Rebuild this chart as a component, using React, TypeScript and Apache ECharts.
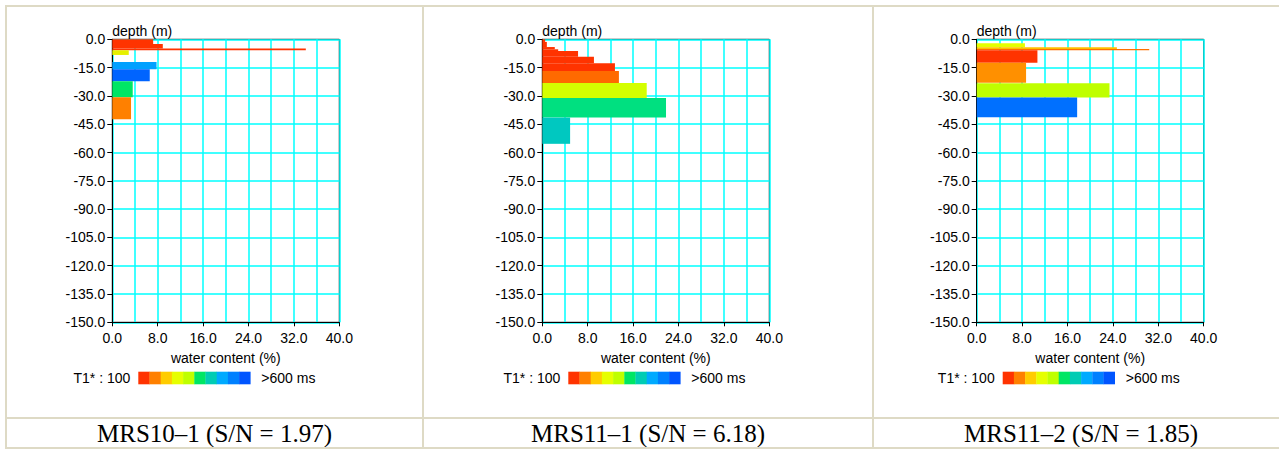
import React, { useEffect, useRef } from 'react';
import * as echarts from 'echarts';

// ---------- data ----------
const captions = ['MRS10\u20131 (S/N = 1.97)', 'MRS11\u20131 (S/N = 6.18)', 'MRS11\u20132 (S/N = 1.85)'];
const xLabelStep = 8; // labelled water-content ticks (%)
const xMax = 40;
const depthMin = -150;
const depthStep = 15;
const legendLeftText = 'T1* : 100';
const legendRightText = '>600 ms';
const xAxisTitle = 'water content (%)';
const yAxisTitle = 'depth (m)';

// panel 1 : MRS10-1  (depth top, depth bottom in m; water content in %)
const p1Top = [0, 2.5, 4.9, 5.8, 12.0, 15.9, 22.2, 30.7];
const p1Bottom = [2.5, 4.9, 5.8, 8.3, 15.9, 22.2, 30.7, 42.4];
const p1Water = [7.2, 8.9, 34.1, 2.9, 7.8, 6.6, 3.6, 3.3];

// panel 2 : MRS11-1
const p2Top = [0, 1.4, 4.1, 5.3, 6.2, 9.2, 12.7, 16.8, 23.1, 31.1, 41.5];
const p2Bottom = [1.4, 4.1, 5.3, 6.2, 9.2, 12.7, 16.8, 23.1, 31.1, 41.5, 55.4];
const p2Water = [0.5, 0.8, 2.2, 2.8, 6.3, 9.1, 12.8, 13.5, 18.4, 21.8, 4.9];

// panel 3 : MRS11-2
const p3Top = [2.1, 4.2, 5.1, 5.8, 12.4, 23.3, 30.9];
const p3Bottom = [4.2, 5.1, 5.8, 12.4, 23.0, 30.9, 41.3];
const p3Water = [8.5, 24.7, 30.4, 10.7, 8.7, 23.4, 17.7];

// ---------- styles ----------
const p1Colors = ['#ff3300', '#ff3300', '#ff3300', '#e6f000', '#00a0ff', '#0064ff', '#00e664', '#ff8000'];
const p2Colors = ['#ff3300', '#ff3300', '#ff3300', '#ff3300', '#ff3300', '#ff3300', '#ff3300', '#ff6a00', '#d4ff00', '#00e080', '#00c8c0'];
const p3Colors = ['#e6ff00', '#ffc000', '#ff7000', '#ff3300', '#ff9000', '#bfff00', '#0070ff'];
const legendPalette = ['#ff3300', '#ff8000', '#ffcc00', '#e6ff00', '#bfff00', '#00e664', '#00ccb4', '#00aaff', '#0080ff', '#0055ff'];

const W = 1279;
const H = 452;
const plotLefts = [112.3, 542.3, 976.7];
const plotTop = 39.3;
const plotW = 227;
const plotH = 283;
const captionCenters = [214.5, 648, 1081];
const FONT = 'Liberation Sans';
const GRID_COLOR = '#00ffff';
const BORDER = '#dedac5';

const panels = [
  { top: p1Top, bottom: p1Bottom, water: p1Water, colors: p1Colors },
  { top: p2Top, bottom: p2Bottom, water: p2Water, colors: p2Colors },
  { top: p3Top, bottom: p3Bottom, water: p3Water, colors: p3Colors },
];

export default function App() {
  const ref = useRef<HTMLDivElement>(null);

  useEffect(() => {
    if (!ref.current) return;
    const chart = echarts.init(ref.current, null, { renderer: 'svg', width: W, height: H });

    const grid: any[] = [];
    const xAxis: any[] = [];
    const yAxis: any[] = [];
    const series: any[] = [];
    const graphic: any[] = [];

    panels.forEach((p, i) => {
      const left = plotLefts[i];
      grid.push({
        left,
        top: plotTop,
        width: plotW,
        height: plotH,
        show: true,
        borderColor: '#000',
        borderWidth: 1,
        backgroundColor: '#fff',
      });
      xAxis.push({
        gridIndex: i,
        type: 'value',
        min: 0,
        max: xMax,
        interval: xLabelStep,
        axisLine: { show: true, onZero: false, lineStyle: { color: '#000', width: 1 } },
        axisTick: { show: true, length: 4, lineStyle: { color: '#000' } },
        axisLabel: {
          color: '#000',
          fontFamily: FONT,
          fontSize: 14,
          margin: 9,
          formatter: (v: number) => v.toFixed(1),
        },
        splitLine: { show: true, lineStyle: { color: GRID_COLOR, width: 1.5 } },
        minorTick: { show: false, splitNumber: 2 },
        minorSplitLine: { show: true, lineStyle: { color: GRID_COLOR, width: 1.5 } },
      });
      yAxis.push({
        gridIndex: i,
        type: 'value',
        min: depthMin,
        max: 0,
        interval: depthStep,
        axisLine: { show: true, onZero: false, lineStyle: { color: '#000', width: 1 } },
        axisTick: { show: true, length: 5, lineStyle: { color: '#000' } },
        axisLabel: {
          color: '#000',
          fontFamily: FONT,
          fontSize: 14,
          margin: 7,
          formatter: (v: number) => v.toFixed(1),
        },
        splitLine: { show: true, lineStyle: { color: GRID_COLOR, width: 1.5 } },
      });

      const data = p.water.map((w, k) => ({
        value: [-p.top[k], -p.bottom[k], w],
        itemStyle: { color: p.colors[k] },
      }));
      series.push({
        type: 'custom',
        xAxisIndex: i,
        yAxisIndex: i,
        encode: { x: 2, y: [0, 1] },
        data,
        z: 3,
        renderItem: (params: any, api: any) => {
          const a = api.coord([0, api.value(0)]);
          const b = api.coord([api.value(2), api.value(1)]);
          return {
            type: 'rect',
            shape: { x: a[0], y: a[1], width: b[0] - a[0], height: b[1] - a[1] },
            style: { fill: api.visual('color') },
          };
        },
      });

      // axis titles
      graphic.push({
        type: 'text',
        x: left,
        y: plotTop - 1,
        style: { text: yAxisTitle, fontFamily: FONT, fontSize: 14, fill: '#000', textVerticalAlign: 'bottom' },
      });
      graphic.push({
        type: 'text',
        x: left + plotW / 2,
        y: 358,
        style: {
          text: xAxisTitle,
          fontFamily: FONT,
          fontSize: 14,
          fill: '#000',
          textAlign: 'center',
          textVerticalAlign: 'middle',
        },
      });
      // legend
      graphic.push({
        type: 'text',
        x: left + 18,
        y: 378,
        style: {
          text: legendLeftText,
          fontFamily: FONT,
          fontSize: 14,
          fill: '#000',
          textAlign: 'right',
          textVerticalAlign: 'middle',
        },
      });
      const cw = 11.2;
      legendPalette.forEach((c, k) => {
        graphic.push({
          type: 'rect',
          shape: { x: left + 26 + k * cw, y: 371.7, width: cw + 0.3, height: 12.6 },
          style: { fill: c },
        });
      });
      graphic.push({
        type: 'text',
        x: left + 149,
        y: 378,
        style: {
          text: legendRightText,
          fontFamily: FONT,
          fontSize: 14,
          fill: '#000',
          textAlign: 'left',
          textVerticalAlign: 'middle',
        },
      });
      // caption
      graphic.push({
        type: 'text',
        x: captionCenters[i],
        y: 433,
        style: {
          text: captions[i],
          fontFamily: 'Liberation Serif',
          fontSize: 25,
          fill: '#000',
          textAlign: 'center',
          textVerticalAlign: 'middle',
        },
      });
    });

    // table borders
    const hLines = [6, 418, 448];
    hLines.forEach((y) => {
      graphic.push({ type: 'rect', shape: { x: 5, y: y - 1, width: W - 5, height: 2 }, style: { fill: BORDER } });
    });
    const vLines = [6, 423, 873];
    vLines.forEach((x) => {
      graphic.push({ type: 'rect', shape: { x: x - 1, y: 5, width: 2, height: 444 }, style: { fill: BORDER } });
    });

    chart.setOption({
      animation: false,
      backgroundColor: '#fff',
      grid,
      xAxis,
      yAxis,
      series,
      graphic,
    });

    return () => chart.dispose();
  }, []);

  return (
    <div
      ref={ref}
      style={{ position: 'absolute', left: 0, top: 0, width: W, height: H, background: '#fff' }}
    />
  );
}
